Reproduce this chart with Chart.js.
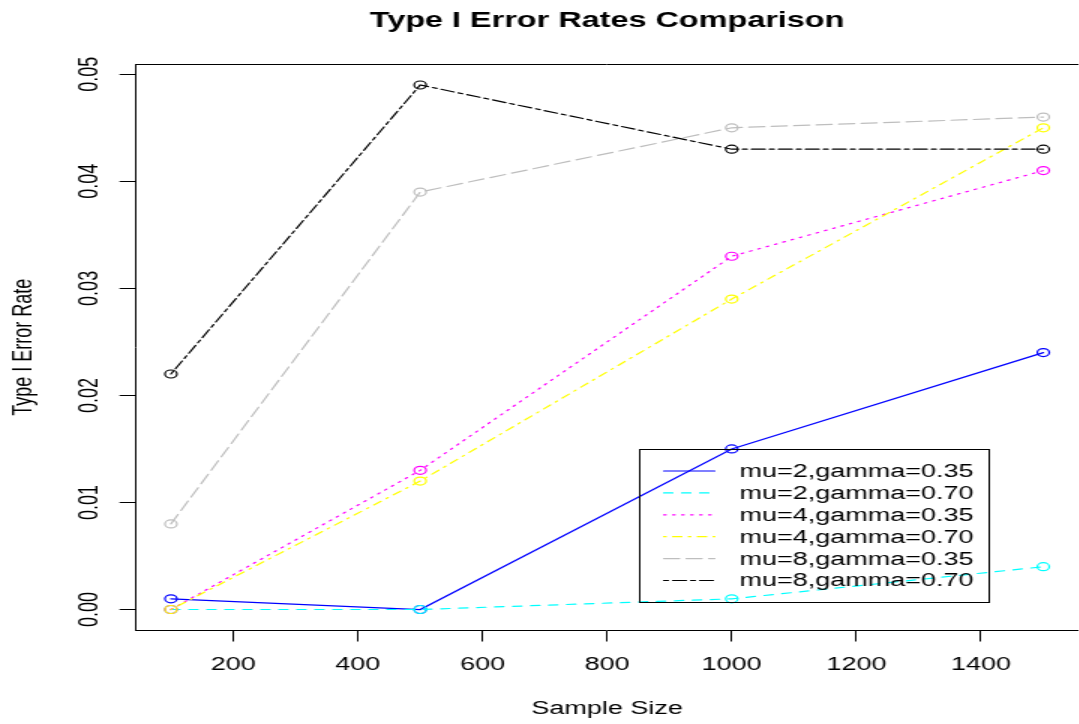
<!DOCTYPE html>
<html>
<head>
<meta charset="utf-8">
<script src="https://cdn.jsdelivr.net/npm/chart.js@4"></script>
<style>
  html, body { margin: 0; padding: 0; background: #fff; overflow: hidden; }
  #chart { display: block; }
</style>
</head>
<body>
<!-- drawn at 724 wide and stretched to 1086 to get the wide R look -->
<canvas id="chart" width="724" height="724" style="width:1086px;height:724px"></canvas>
<script>
const sampleSizes = [100, 500, 1000, 1500];

const mu2Gamma035 = [0.001, 0.000, 0.015, 0.024];
const mu2Gamma070 = [0.000, 0.000, 0.001, 0.004];
const mu4Gamma035 = [0.000, 0.013, 0.033, 0.041];
const mu4Gamma070 = [0.000, 0.012, 0.029, 0.045];
const mu8Gamma035 = [0.008, 0.039, 0.045, 0.046];
const mu8Gamma070 = [0.022, 0.049, 0.043, 0.043];

const seriesLabels = ["mu=2,gamma=0.35", "mu=2,gamma=0.70", "mu=4,gamma=0.35",
	"mu=4,gamma=0.70", "mu=8,gamma=0.35", "mu=8,gamma=0.70"];

const xTicks = [200, 400, 600, 800, 1000, 1200, 1400];
const yTicks = [0.00, 0.01, 0.02, 0.03, 0.04, 0.05];

const FONT = '"Liberation Sans", Arial, Helvetica, sans-serif';

// R line types 1..6
const colors = ["#0000FF", "#00FFFF", "#FF00FF", "#FFFF00", "#BEBEBE", "#000000"];
const dashes = [[], [6, 6], [1.5, 4.5], [1.5, 4.5, 6, 4.5], [10.5, 4.5], [3, 3, 9, 3]];

const allSeries = [mu2Gamma035, mu2Gamma070, mu4Gamma035, mu4Gamma070, mu8Gamma035, mu8Gamma070];

const datasets = allSeries.map((vals, i) => ({
	label: seriesLabels[i],
	data: vals.map((v, j) => ({ x: sampleSizes[j], y: v })),
	borderColor: colors[i],
	borderWidth: 1.2,
	borderDash: dashes[i],
	borderCapStyle: 'round',
	pointStyle: 'circle',
	pointRadius: 4,
	pointBorderWidth: 1.2,
	pointBorderColor: colors[i],
	pointBackgroundColor: 'rgba(0,0,0,0)',
	tension: 0,
	order: allSeries.length - 1 - i
}));

const rLegend = {
	id: 'rLegend',
	afterDatasetsDraw(chart, args, opts) {
		const ctx = chart.ctx;
		const left = Math.round(chart.scales.x.getPixelForValue(opts.atX)) + 0.5;
		const top = Math.round(chart.scales.y.getPixelForValue(opts.atY)) + 0.5;
		ctx.save();
		ctx.strokeStyle = '#000';
		ctx.lineWidth = 1;
		ctx.strokeRect(left, top, opts.width, opts.height);
		ctx.font = '18px ' + FONT;
		ctx.textBaseline = 'middle';
		ctx.textAlign = 'left';
		chart.data.datasets.forEach((ds, i) => {
			const yy = top + opts.firstRow + i * opts.rowGap;
			ctx.strokeStyle = ds.borderColor;
			ctx.lineWidth = 1.2;
			ctx.lineCap = 'round';
			ctx.setLineDash(ds.borderDash);
			ctx.beginPath();
			ctx.moveTo(left + 16, yy);
			ctx.lineTo(left + 50, yy);
			ctx.stroke();
			ctx.setLineDash([]);
			ctx.fillStyle = '#000';
			ctx.fillText(ds.label, left + 66.5, yy + 1);
		});
		ctx.restore();
	}
};

new Chart(document.getElementById('chart'), {
	type: 'line',
	data: { datasets: datasets },
	plugins: [rLegend],
	options: {
		responsive: false,
		animation: false,
		events: [],
		layout: { padding: { left: 0, right: 1, top: 0, bottom: 0 } },
		plugins: {
			legend: { display: false },
			tooltip: { enabled: false },
			title: { display: false },
			rLegend: { atX: 850, atY: 0.015, width: 233, height: 153, firstRow: 21.5, rowGap: 21.9 }
		},
		scales: {
			x: {
				type: 'linear',
				position: 'bottom',
				min: 44,
				max: 1556,
				afterBuildTicks: s => { s.ticks = xTicks.map(v => ({ value: v })); },
				afterFit: s => { s.height = 93.5; },
				grid: { drawOnChartArea: false, drawTicks: true, tickLength: 11, color: '#000', lineWidth: 1 },
				border: { display: true, color: '#000', width: 1 },
				ticks: {
					color: '#000', font: { family: FONT, size: 18 }, padding: 12.5, maxRotation: 0, autoSkip: false,
					callback: v => String(v)
				},
				title: { display: true, text: 'Sample Size', color: '#000', font: { family: FONT, size: 18 }, padding: { top: 0, bottom: 4.5 } }
			},
			x2: {
				type: 'linear',
				position: 'top',
				min: 44,
				max: 1556,
				afterFit: s => { s.height = 64; },
				grid: { display: false },
				border: { display: true, color: '#000', width: 1 },
				ticks: { display: false },
				title: { display: true, text: 'Type I Error Rates Comparison', color: '#000', font: { family: FONT, size: 21.6, weight: 'bold' }, padding: { top: 8, bottom: 0 } }
			},
			y: {
				type: 'linear',
				position: 'left',
				min: -0.00196,
				max: 0.05096,
				afterBuildTicks: s => { s.ticks = yTicks.map(v => ({ value: v })); },
				afterFit: s => { s.width = 90.7; },
				grid: { drawOnChartArea: false, drawTicks: true, tickLength: 11, color: '#000', lineWidth: 1 },
				border: { display: true, color: '#000', width: 1 },
				ticks: {
					color: '#000', font: { family: FONT, size: 18 }, padding: 2.2,
					minRotation: 90, maxRotation: 90, crossAlign: 'center', autoSkip: false,
					callback: v => v.toFixed(2)
				},
				title: { display: true, text: 'Type I Error Rate', color: '#000', font: { family: FONT, size: 18 }, padding: { top: 5, bottom: 0 } }
			}
		}
	}
});
</script>
</body>
</html>
